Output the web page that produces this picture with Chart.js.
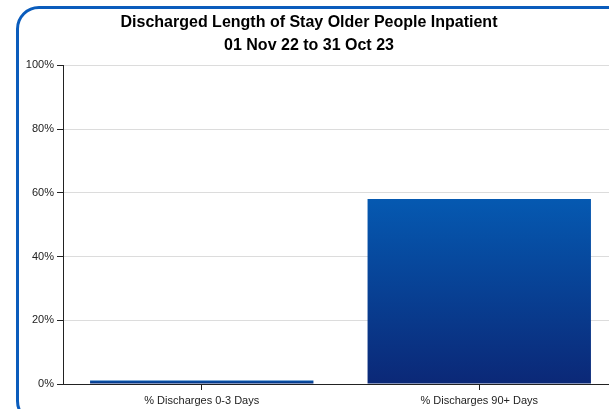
<!DOCTYPE html>
<html>
<head>
<meta charset="utf-8">
<title>Discharged Length of Stay</title>
<script src="https://cdn.jsdelivr.net/npm/chart.js@4.4.0/dist/chart.umd.min.js"></script>
<style>
  html, body { margin: 0; padding: 0; overflow: hidden; background: #fff; }
  .frame {
    position: absolute; left: 16px; top: 6px;
    width: 640px; height: 412px;
    border: 3px solid #0a5cbc; border-radius: 23px;
  }
  .wrap { position: absolute; left: 0; top: 0; width: 618px; height: 409px; }
</style>
</head>
<body>
<div class="frame"></div>
<div class="wrap"><canvas id="losChart"></canvas></div>
<script>
// discharges by length of stay, 01 Nov 22 to 31 Oct 23
const categories = ['% Discharges 0-3 Days', '% Discharges 90+ Days'];
const pctValues = [1.1, 58.1];
const titleLines = ['Discharged Length of Stay Older People Inpatient', '01 Nov 22 to 31 Oct 23'];

const FONT = "Arial, 'Liberation Sans', sans-serif";

// vertical gradient from the top of each bar down to the baseline
function barFill(ctx) {
  const chart = ctx.chart;
  const y = chart.scales.y;
  if (!chart.chartArea || !y || ctx.raw == null) return '#0b2a78';
  const top = y.getPixelForValue(ctx.raw);
  const base = y.getPixelForValue(0);
  if (!isFinite(top) || !isFinite(base)) return '#0b2a78';
  const g = chart.ctx.createLinearGradient(0, top, 0, base);
  g.addColorStop(0, '#0559b1');
  g.addColorStop(1, '#0b2877');
  return g;
}

new Chart(document.getElementById('losChart').getContext('2d'), {
  type: 'bar',
  data: {
    labels: categories,
    datasets: [{
      data: pctValues,
      backgroundColor: barFill,
      borderWidth: 0,
      categoryPercentage: 1,
      barPercentage: 0.805
    }]
  },
  options: {
    responsive: true,
    maintainAspectRatio: false,
    animation: false,
    layout: { padding: { left: 0, right: 0, top: 0, bottom: 0 } },
    plugins: {
      legend: { display: false },
      tooltip: { enabled: false },
      title: {
        display: true,
        text: titleLines,
        color: '#000',
        font: { family: FONT, size: 16, weight: 'bold', lineHeight: 1.45 },
        padding: { top: 11, bottom: 8 }
      }
    },
    scales: {
      x: {
        afterFit(scale) { scale.height = 25; },
        grid: {
          offset: false,
          drawOnChartArea: false,
          drawTicks: true,
          tickLength: 6,
          tickColor: '#222'
        },
        border: { color: '#222', width: 1 },
        ticks: { color: '#222', font: { family: FONT, size: 11 }, padding: 4 }
      },
      y: {
        min: 0,
        max: 100,
        afterFit(scale) { scale.width = 63; },
        grid: { color: '#dcdcdc', tickLength: 6, tickColor: '#222' },
        border: { color: '#222', width: 1 },
        ticks: {
          stepSize: 20,
          color: '#222',
          font: { family: FONT, size: 11 },
          padding: 3,
          callback: v => v + '%'
        }
      }
    }
  }
});
</script>
</body>
</html>
